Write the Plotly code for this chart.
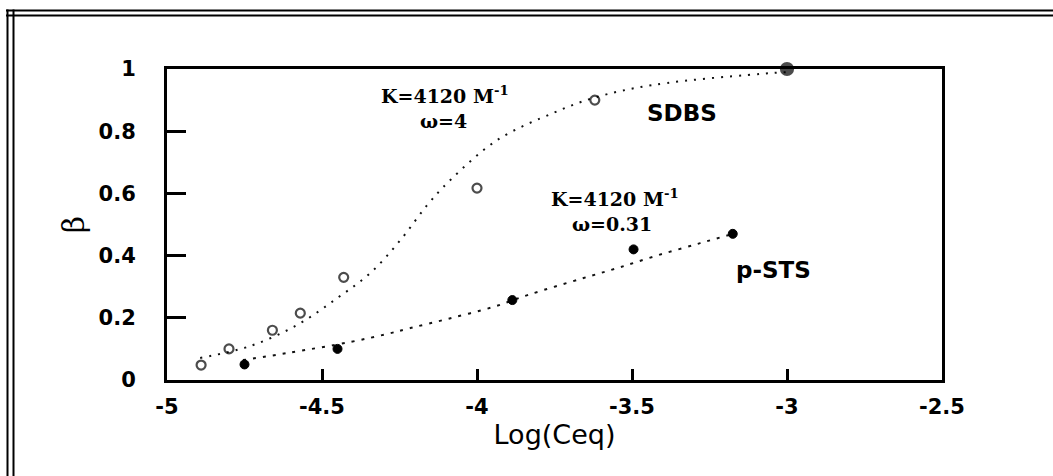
import plotly.graph_objects as go

# ---- data ----
sdbs_x = [-4.89, -4.80, -4.66, -4.57, -4.43, -4.00, -3.62, -3.00]
sdbs_y = [0.048, 0.10, 0.16, 0.215, 0.33, 0.617, 0.90, 1.0]

psts_x = [-4.75, -4.45, -3.886, -3.495, -3.175]
psts_y = [0.05, 0.10, 0.257, 0.42, 0.47]

sdbs_fit_x = [-4.893, -4.732, -4.58, -4.45, -4.344, -4.247, -4.16, -4.086,
              -3.934, -3.753, -3.624, -3.43, -3.05, -2.99]
sdbs_fit_y = [0.071, 0.109, 0.177, 0.264, 0.344, 0.45, 0.563, 0.643,
              0.772, 0.859, 0.907, 0.949, 0.987, 0.99]

psts_fit_x = [-4.755, -4.61, -4.41, -4.29, -4.215, -4.096, -3.947, -3.837,
              -3.656, -3.547, -3.42, -3.28, -3.175]
psts_fit_y = [0.064, 0.087, 0.122, 0.148, 0.167, 0.196, 0.235, 0.273,
              0.328, 0.36, 0.40, 0.44, 0.47]

x_tickvals = [-5, -4.5, -4, -3.5, -3, -2.5]
x_ticktext = ["-5", "-4.5", "-4", "-3.5", "-3", "-2.5"]
y_tickvals = [0, 0.2, 0.4, 0.6, 0.8, 1]
y_ticktext = ["0", "0.2", "0.4", "0.6", "0.8", "1"]

x_title = "Log(Ceq)"
y_title = "β"

# ---- figure ----
W, H = 1053, 476
ML, MR, MT, MB = 167, 111, 69, 96
PW, PH = W - ML - MR, H - MT - MB


def px_to_paper_x(px):
    return (px - ML) / PW


def px_to_paper_y(py):
    return (H - MB - py) / PH


fig = go.Figure()

fig.add_trace(go.Scatter(x=sdbs_fit_x, y=sdbs_fit_y, mode="lines",
                         line=dict(color="#111", width=2, dash="2px,7px", shape="spline"),
                         hoverinfo="skip", showlegend=False))
fig.add_trace(go.Scatter(x=psts_fit_x, y=psts_fit_y, mode="lines",
                         line=dict(color="#111", width=2, dash="3px,7px", shape="spline"),
                         hoverinfo="skip", showlegend=False))

sym = ["circle-open"] * (len(sdbs_x) - 1) + ["circle"]
sizes = [9] * (len(sdbs_x) - 1) + [12]
fig.add_trace(go.Scatter(x=sdbs_x, y=sdbs_y, mode="markers", name="SDBS",
                         marker=dict(symbol=sym, size=sizes, color="black",
                                     line=dict(color="black", width=2.2)),
                         cliponaxis=False, showlegend=False))
fig.add_trace(go.Scatter(x=psts_x, y=psts_y, mode="markers", name="p-STS",
                         marker=dict(symbol="circle", size=9, color="black",
                                     line=dict(color="black", width=1)),
                         cliponaxis=False, showlegend=False))

serif = "DejaVu Serif"
sans = "DejaVu Sans"
ann = [
    dict(text="<b>K=4120 M<sup>-1</sup></b>", x=445, y=95, font=dict(family=serif, size=19)),
    dict(text="<b>ω=4</b>", x=443, y=121, font=dict(family=serif, size=19)),
    dict(text="<b>SDBS</b>", x=682, y=113, font=dict(family=sans, size=23)),
    dict(text="<b>K=4120 M<sup>-1</sup></b>", x=615, y=198, font=dict(family=serif, size=19)),
    dict(text="<b>ω=0.31</b>", x=612, y=224, font=dict(family=serif, size=19)),
    dict(text="<b>p-STS</b>", x=773, y=270, font=dict(family=sans, size=23)),
]
for a in ann:
    fig.add_annotation(text=a["text"], x=px_to_paper_x(a["x"]), y=px_to_paper_y(a["y"]),
                       xref="paper", yref="paper", showarrow=False,
                       xanchor="center", yanchor="middle",
                       font=dict(color="black", **a["font"]))

# outer double border (top and left, running off the right and bottom edges)
lc = "black"
for py in (10.5, 15.5):
    fig.add_shape(type="line", xref="paper", yref="paper",
                  x0=px_to_paper_x(6), x1=px_to_paper_x(1060),
                  y0=px_to_paper_y(py), y1=px_to_paper_y(py),
                  line=dict(color=lc, width=2))
for pxx in (7.5, 13.5):
    fig.add_shape(type="line", xref="paper", yref="paper",
                  x0=px_to_paper_x(pxx), x1=px_to_paper_x(pxx),
                  y0=px_to_paper_y(9.5), y1=px_to_paper_y(480),
                  line=dict(color=lc, width=2))

fig.update_layout(
    width=W, height=H,
    margin=dict(l=ML, r=MR, t=MT, b=MB, pad=0),
    plot_bgcolor="white", paper_bgcolor="white",
    xaxis=dict(range=[-5, -2.5], tickmode="array", tickvals=x_tickvals, ticktext=x_ticktext,
               ticks="inside", ticklen=11, tickwidth=2.5, tickcolor="black",
               showline=True, linecolor="black", linewidth=2.5, mirror=True,
               showgrid=False, zeroline=False, ticklabelstandoff=6,
               tickfont=dict(family=sans, size=21, color="black", weight="bold"),
               title=dict(text=x_title, standoff=0,
                          font=dict(family=sans, size=27, color="black"))),
    yaxis=dict(range=[0, 1], tickmode="array", tickvals=y_tickvals, ticktext=y_ticktext,
               ticks="inside", ticklen=19, tickwidth=2.5, tickcolor="black",
               showline=True, linecolor="black", linewidth=3, mirror=True,
               showgrid=False, zeroline=False, ticklabelstandoff=24,
               tickfont=dict(family=sans, size=21, color="black", weight="bold"),
               title=dict(text=y_title, standoff=6,
                          font=dict(family=serif, size=30, color="black"))),
)

fig.write_html("out.html")
